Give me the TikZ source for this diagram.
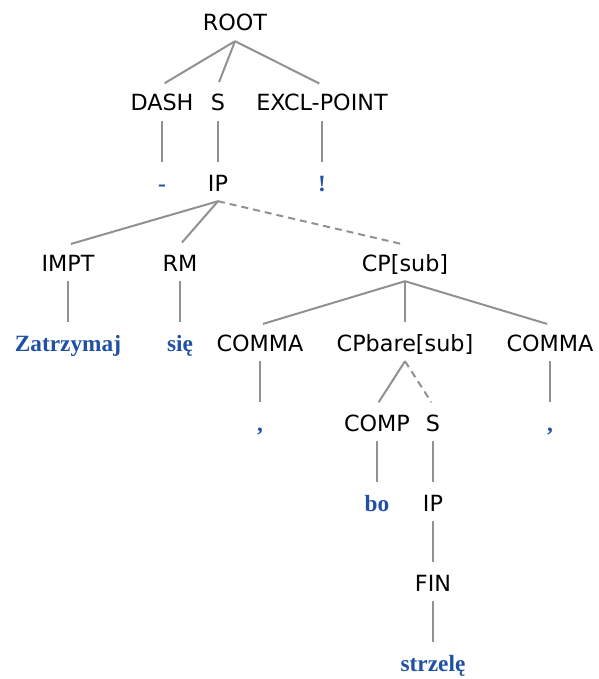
\documentclass[tikz,border=0pt]{standalone}
\usepackage{fontspec}
\setmainfont{DejaVu Sans}
\newfontfamily\leaffont{Liberation Serif}[BoldFont={Liberation Serif Bold}]
\definecolor{leafblue}{RGB}{32,80,164}
\definecolor{edgegray}{RGB}{145,145,145}
\tikzset{
  cat/.style={inner xsep=1pt, inner ysep=10pt, text height=16pt, text depth=0pt,
    font=\fontsize{22.3}{24}\selectfont, text=black},
  leaf/.style={inner xsep=1pt, inner ysep=10pt, text height=16pt, text depth=0pt,
    font=\leaffont\bfseries\fontsize{23.3}{25}\selectfont, text=leafblue},
  edge/.style={draw=edgegray, line width=2pt, shorten >=3pt},
  dedge/.style={edge, dash pattern=on 7pt off 5pt}
}
\begin{document}
\begin{tikzpicture}[x=1pt,y=-1pt]
\useasboundingbox (0,0) rectangle (598,679);
\node[cat] (root) at (235,23) {ROOT};
\node[cat] (dash) at (162,103) {DASH};
\node[cat] (s1) at (218,103) {S};
\node[cat] (excl) at (322,103) {EXCL-POINT};
\node[leaf] (dashw) at (162,183) {-};
\node[cat] (ip1) at (218,183) {IP};
\node[leaf] (exclw) at (322,183) {!};
\node[cat] (impt) at (68,263) {IMPT};
\node[cat] (rm) at (180,263) {RM};
\node[cat] (cp) at (405,263) {CP[sub]};
\node[leaf] (zat) at (68,343) {Zatrzymaj};
\node[leaf] (sie) at (180,343) {się};
\node[cat] (comma1) at (260,343) {COMMA};
\node[cat] (cpbare) at (405,343) {CPbare[sub]};
\node[cat] (comma2) at (550,343) {COMMA};
\node[leaf] (commaw1) at (260,423) {,};
\node[cat] (comp) at (377,423) {COMP};
\node[cat] (s2) at (433,423) {S};
\node[leaf] (commaw2) at (550,423) {,};
\node[leaf] (bo) at (377,503) {bo};
\node[cat] (ip2) at (433,503) {IP};
\node[cat] (fin) at (433,583) {FIN};
\node[leaf] (strz) at (433,663) {strzelę};
\draw[edge] (root.south) -- (dash.north);
\draw[edge] (root.south) -- (s1.north);
\draw[edge] (root.south) -- (excl.north);
\draw[edge] (dash.south) -- (dashw.north);
\draw[edge] (s1.south) -- (ip1.north);
\draw[edge] (excl.south) -- (exclw.north);
\draw[edge] (ip1.south) -- (impt.north);
\draw[edge] (ip1.south) -- (rm.north);
\draw[dedge] (ip1.south) -- (cp.north);
\draw[edge] (impt.south) -- (zat.north);
\draw[edge] (rm.south) -- (sie.north);
\draw[edge] (cp.south) -- (comma1.north);
\draw[edge] (cp.south) -- (cpbare.north);
\draw[edge] (cp.south) -- (comma2.north);
\draw[edge] (comma1.south) -- (commaw1.north);
\draw[edge] (comma2.south) -- (commaw2.north);
\draw[edge] (cpbare.south) -- (comp.north);
\draw[dedge] (cpbare.south) -- (s2.north);
\draw[edge] (comp.south) -- (bo.north);
\draw[edge] (s2.south) -- (ip2.north);
\draw[edge] (ip2.south) -- (fin.north);
\draw[edge] (fin.south) -- (strz.north);
\end{tikzpicture}
\end{document}
